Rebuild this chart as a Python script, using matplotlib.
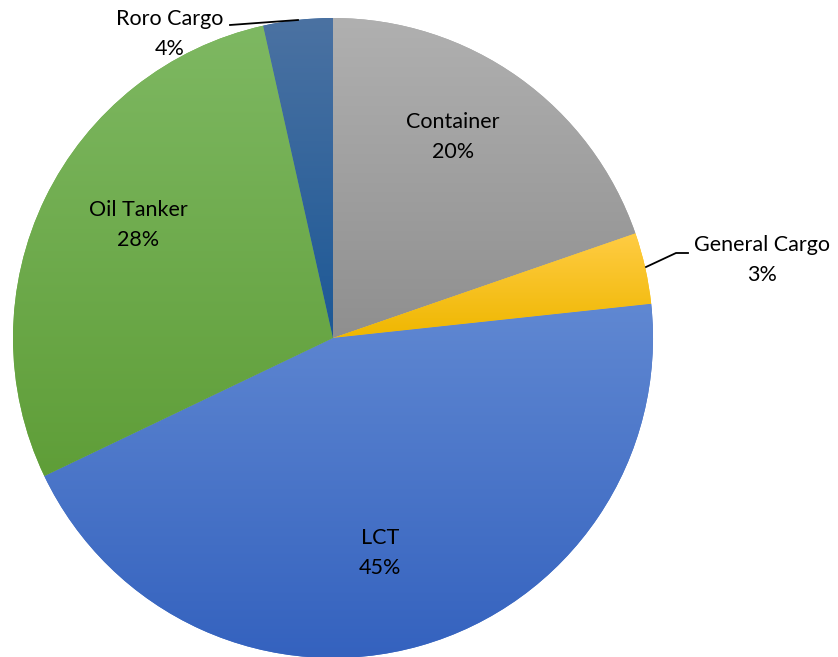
import numpy as np
import matplotlib
matplotlib.use("Agg")
import matplotlib.pyplot as plt
from matplotlib.colors import LinearSegmentedColormap

categories = ["Container", "General Cargo", "LCT", "Oil Tanker", "Roro Cargo"]
values = [19.7, 3.6, 44.6, 28.6, 3.5]
pct_labels = ["20%", "3%", "45%", "28%", "4%"]
# gradient (top, bottom) per slice
grad_top = ["#B0B0B0", "#FFCC44", "#6088D2", "#7EB862", "#4B72A2"]
grad_bot = ["#8F8F8F", "#EFB700", "#3361BE", "#5F9E38", "#1C5896"]
base_cols = ["#A5A5A5", "#FFC000", "#4472C4", "#70AD47", "#2E6099"]

W, H = 838, 657
fig = plt.figure(figsize=(W / 100, H / 100), dpi=100)
ax = fig.add_axes([0, 0, 1, 1])
ax.set_axis_off()

cx, cy, R = 333, H - 338, 320
wedges, _ = ax.pie(values, colors=base_cols, startangle=90, counterclock=False,
                   center=(cx, cy), radius=R, wedgeprops=dict(linewidth=0))

for w, c1, c2 in zip(wedges, grad_top, grad_bot):
    v = w.get_path().vertices
    x0, x1 = v[:, 0].min(), v[:, 0].max()
    y0, y1 = v[:, 1].min(), v[:, 1].max()
    cmap = LinearSegmentedColormap.from_list("g", [c2, c1])
    g = np.linspace(0, 1, 256)[:, None]
    im = ax.imshow(g, extent=(x0, x1, y0, y1), origin="lower", cmap=cmap,
                   aspect="auto", zorder=w.get_zorder() + 0.1, interpolation="bilinear")
    im.set_clip_path(w)

ax.set_xlim(0, W)
ax.set_ylim(0, H)

font = ["Lato", "DejaVu Sans"]
fs = 15.5
lab_pos = [(453, 137), (762, 260), (380, 553), (138, 225), (170, 34)]
for cat, p, (x, y) in zip(categories, pct_labels, lab_pos):
    ax.text(x, H - y, f"{cat}\n{p}", ha="center", va="center", fontsize=fs,
            family=font, linespacing=1.6, color="black", zorder=10)

# leader lines
ax.plot([230, 298], [H - 25, H - 20], color="black", lw=1.3, zorder=9)
ax.plot([688, 676, 646], [H - 253, H - 253, H - 267], color="black", lw=1.3, zorder=9)

fig.savefig("out.png", dpi=100, facecolor="white")
